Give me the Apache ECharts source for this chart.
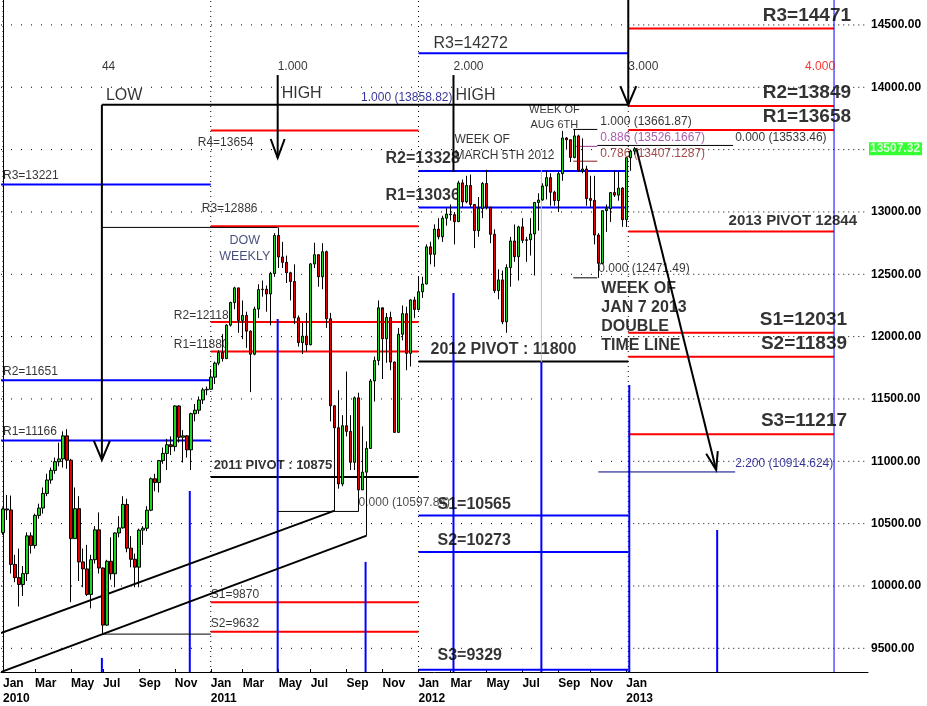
<!DOCTYPE html>
<html><head><meta charset="utf-8">
<script src="https://cdn.jsdelivr.net/npm/echarts@6/dist/echarts.min.js"></script>
<style>html,body{margin:0;padding:0;background:#fff}#c{width:927px;height:706px}</style>
</head><body><div id="c"></div>
<script>
// ---------- DATA ----------
const firstWeek = '2010-01-04';
const totalWeeks = 217;          // weekly slots shown on the axis
const lastLabelIndex = 156;      // last labelled week (Jan 2013)
const monthNames = ['Jan','Feb','Mar','Apr','May','Jun','Jul','Aug','Sep','Oct','Nov','Dec'];
const yMin = 9310, yMax = 14700;
const gridLevels = [9500,10000,10500,11000,11500,12000,12500,13000,13500,14000,14500];
// weekly candles: [open, close, low, high]
const ohlc2010 = [
[10428,10618,10410,10630],[10618,10610,10530,10730],[10610,10173,10100,10725],[10173,10067,10030,10250],
[10067,10012,9835,10300],[10012,10099,9920,10160],[10099,10402,10040,10430],[10402,10325,10260,10430],
[10325,10566,10300,10580],[10566,10625,10540,10660],[10625,10742,10580,10790],[10742,10850,10720,10900],
[10850,10927,10820,10950],[10927,10997,10900,11030],[10997,11019,10960,11150],[11019,11204,10950,11240],
[11204,11009,10940,11258],[11009,10380,9870,11020],[10380,10620,10380,10790],[10620,10193,10040,10720],
[10193,10137,9990,10300],[10137,9932,9920,10330],[9932,10211,9820,10250],[10211,10450,10180,10480],
[10450,10144,10100,10590],[10144,9686,9614,10150],[9686,10198,9680,10210],[10198,10098,10050,10390],
[10098,10425,9990,10430],[10425,10466,10390,10560],[10466,10654,10460,10720],[10654,10303,10270,10700],
[10303,10214,10150,10400],[10214,10151,9990,10260],[10151,10448,9990,10460],[10448,10463,10330,10480],
[10463,10608,10440,10640],[10608,10860,10600,10870],[10860,10830,10760,10900],[10830,11006,10750,11010],
[11006,11063,10980,11110],[11063,11133,10930,11180],[11133,11118,11050,11200],[11118,11444,11080,11450],
[11444,11193,11150,11450],[11193,11204,10990,11250],[11204,11092,11030,11210],[11092,11382,10930,11390],
[11382,11410,11320,11460],[11410,11492,11380,11520],[11492,11573,11460,11590],[11573,11578,11530,11600]];
const ohlc2011 = [
[11578,11675,11580,11740],[11675,11787,11620,11800],[11787,11872,11770,11890],[11872,11824,11800,12020],
[11824,12092,11820,12100],[12092,12273,12080,12280],[12273,12391,12220,12400],[12391,12130,12030,12390],
[12130,12170,11980,12290],[12170,12044,11910,12200],[12044,11859,11555,12050],[11859,12221,11850,12240],
[12221,12377,12150,12420],[12377,12380,12320,12450],[12380,12342,12200,12410],[12342,12506,12090,12520],
[12506,12811,12480,12830],[12811,12639,12550,12876],[12639,12596,12550,12760],[12596,12512,12430,12650],
[12512,12442,12290,12520],[12442,12151,12100,12580],[12151,11952,11920,12170],[11952,12004,11860,12110],
[12004,11935,11880,12190],[11935,12583,11930,12590],[12583,12657,12550,12753],[12657,12480,12400,12660],
[12480,12681,12380,12750],[12681,12143,12070,12690],[12143,11445,11320,12190],[11445,11269,10604,11450],
[11269,10818,10780,11570],[10818,11285,10800,11370],[11285,11240,11200,11720],[11240,10992,10930,11370],
[10992,11509,10930,11520],[11509,10771,10598,11550],[10771,10913,10770,11280],[10913,11103,10404,11160],
[11103,11644,11100,11660],[11644,11809,11480,11840],[11809,12231,11770,12290],[12231,11983,11660,12220],
[11983,12154,11790,12190],[12154,11796,11730,12200],[11796,11232,11230,11800],[11232,12019,11230,12070],
[12019,12184,11970,12250],[12184,11866,11730,12240],[11866,12294,11760,12300],[12294,12218,12150,12320]];
const ohlc2012 = [
[12218,12360,12210,12480],[12360,12422,12310,12480],[12422,12720,12420,12740],[12720,12660,12580,12760],
[12660,12862,12560,12900],[12862,12801,12780,12950],[12801,12950,12760,12970],[12950,12983,12890,13030],
[12983,12978,12930,13060],[12978,12922,12740,13000],[12922,13233,12920,13250],[13233,13081,13040,13260],
[13081,13212,13070,13290],[13212,13060,13040,13300],[13060,12850,12710,13060],[12850,13029,12800,13120],
[13029,13228,12950,13240],[13228,13038,13020,13338],[13038,12821,12750,13040],[12821,12369,12350,12860],
[12369,12455,12300,12540],[12455,12119,12100,12530],[12119,12554,12030,12580],[12554,12767,12400,12800],
[12767,12641,12600,12900],[12641,12880,12450,12890],[12880,12772,12750,12950],[12772,12777,12600,12800],
[12777,12823,12650,12950],[12823,13076,12490,13080],[13076,13096,12850,13150],[13096,13208,13090,13230],
[13208,13275,13100,13330],[13275,13158,13050,13310],[13158,13091,13050,13170],[13091,13307,13000,13320],
[13307,13593,13250,13650],[13593,13579,13500,13600],[13579,13437,13400,13580],[13437,13610,13430,13662],
[13610,13329,13320,13620],[13329,13344,13310,13590],[13344,13107,13050,13370],[13107,13093,13040,13290],
[13093,12815,12740,13290],[12815,12588,12471,12830],[12588,13010,12580,13010],[13010,13026,12840,13060],
[13026,13155,12920,13160],[13155,13135,13120,13330],[13135,13191,13090,13320],[13191,12938,12880,13200],
[12938,13435,12880,13440]];
const ohlc2013 = [[13435,13488,13330,13500],[13488,13507,13460,13520]];
const lastPrice = 13507.32;

// yearly pivot levels
const pivots2010 = [['R3',13221],['R2',11651],['R1',11166]];
const pivots2011 = [['R4',13654],['R3',12886],['R2',12118],['R1',11880],['S1',9870],['S2',9632]];
const pivot2011 = 10875;
const pivots2012 = [['R3',14272],['R2',13328],['R1',13036],['S1',10565],['S2',10273],['S3',9329]];
const pivot2012 = 11800;
const pivots2013 = [['R3',14471],['R2',13849],['R1',13658],['S1',12031],['S2',11839],['S3',11217]];
const pivot2013 = 12844;
// year boundaries (week positions) used by the pivot lines
const yearBounds = [-0.5, 52, 104, 156.5, 208];
const yearMarks = [0, 52, 104, 156.5];

// fibonacci / swing levels
const fibTop = 13858.82;
const high2011 = 12876, low2011 = 10597.84, low2010 = 9614, low2011b = 10404, low2011a = 10604;
const fib2012 = [['1.000', 13661.87], ['0.886', 13526.1667], ['0.786', 13407.1287], ['0.000', 12471.49]];
const ext0 = 13533.46, ext220 = 10914.624;
// time cycle (week positions) and labels
const cycleWeeks = [24.75, 68.75, 112.75, 156.5, 200.75];
const cycleLabels = ['44', '1.000', '2.000', '3.000', '4.000'];
// cycle bars: week position and top price
const barWeeks = [24.75, 46.75, 68.75, 90.75, 112.75, 134.75, 156.75, 178.75];
const barTops = [9423, 10762, 12142, 10193, 12350, 11797, 11612, 10449];

// ---------- BUILD ----------
const F = 'Liberation Sans, Arial, sans-serif';
const DAY = 864e5;
const t0 = Date.parse(firstWeek + 'T00:00:00Z');
const weeks = [], fridays = [];
for (let k = 0; k < totalWeeks; k++) {
  const d = new Date(t0 + k * 7 * DAY);
  weeks.push(d.toISOString().slice(0, 10));
  fridays.push(new Date(t0 + (k * 7 + 4) * DAY));
}
function isLabelWeek(k) {
  if (k > lastLabelIndex) return false;
  const m = fridays[k].getUTCMonth();
  const newMonth = k === 0 || m !== fridays[k - 1].getUTCMonth();
  return newMonth && m % 2 === 0;
}
const candles = [...ohlc2010, ...ohlc2011, ...ohlc2012, ...ohlc2013];

const BLUE = '#0000ff', RED = '#ff0000', BLACK = '#000000', NAVY = '#000080';
const lineItems = [];
const add = (pts, color, width, type) => lineItems.push({coords: pts, lineStyle: {color: color, width: width, type: type || 'solid', opacity: 1}});

gridLevels.forEach(v => {
  add([[-0.5, v], [156.5, v]], BLACK, 1, [1, 9]);
  add([[156.5, v], [216.5, v]], BLACK, 1, [1, 4]);
});
yearMarks.forEach(i => add([[i, yMin], [i, yMax]], BLACK, 1, [1, 4]));

pivots2010.forEach(p => add([[yearBounds[0], p[1]], [yearBounds[1], p[1]]], BLUE, 2));
pivots2011.forEach(p => add([[yearBounds[1], p[1]], [yearBounds[2], p[1]]], RED, 2));
add([[yearBounds[1], pivot2011], [yearBounds[2], pivot2011]], BLACK, 2);
pivots2012.forEach(p => add([[yearBounds[2], p[1]], [yearBounds[3], p[1]]], BLUE, 2));
add([[yearBounds[2], pivot2012], [yearBounds[3], pivot2012]], BLACK, 2);
pivots2013.forEach(p => add([[yearBounds[3], p[1]], [yearBounds[4], p[1]]], RED, 2));
add([[yearBounds[3], pivot2013], [yearBounds[4], pivot2013]], RED, 2);

// cycle bars
barWeeks.forEach((w, k) => add([[w, yMin], [w, barTops[k]]], BLUE, 2));
add([[208, yMin], [208, yMax]], BLUE, 1);
// gray marker
add([[134.75, 11797], [134.75, 13337]], '#c0c0c0', 1);

// time cycle verticals + top line
add([[cycleWeeks[0], fibTop], [cycleWeeks[3], fibTop]], BLACK, 2);
add([[cycleWeeks[0], fibTop], [cycleWeeks[0], 11011]], BLACK, 2);
add([[cycleWeeks[0] - 2, 11163], [cycleWeeks[0], 11011], [cycleWeeks[0] + 2, 11163]], BLACK, 2);
add([[cycleWeeks[1], 14098], [cycleWeeks[1], 13433]], BLACK, 2);
add([[cycleWeeks[1] - 1.75, 13585], [cycleWeeks[1], 13433], [cycleWeeks[1] + 1.75, 13585]], BLACK, 2);
add([[cycleWeeks[2], 14098], [cycleWeeks[2], 13320]], BLACK, 2);
add([[cycleWeeks[3], yMax], [cycleWeeks[3], 13858]], BLACK, 2);
add([[cycleWeeks[3] - 2, 14010], [cycleWeeks[3], 13858], [cycleWeeks[3] + 2, 14010]], BLACK, 2);
// projection arrow
add([[158.5, 13513], [178.5, 10931]], BLACK, 2);
add([[176, 11060], [178.5, 10931], [178.9, 11082]], BLACK, 2);

// channel lines
add([[-0.5, 9623], [83, low2011a]], BLACK, 2);
add([[-0.5, yMin], [91, low2011b]], BLACK, 2);
// swing lines
add([[25, low2010], [52, low2010]], BLACK, 1);
add([[24.75, high2011], [68.75, high2011]], BLACK, 1);
add([[68.75, low2011], [89, low2011]], BLACK, 1);
// fib retracement 2012
const fibColors = ['#000000', '#993399', '#8b1a1a', '#000000'];
fib2012.forEach((f, k) => add([[142.75, f[1]], [148.75, f[1]]], fibColors[k], 1));
add([[148.75, ext0], [182.75, ext0]], BLACK, 1);
add([[149, ext220], [183.25, ext220]], NAVY, 1);

// ---------- TEXTS ----------
const texts = [];
function txt(i, p, text, o) {
  o = o || {};
  texts.push({
    value: [i, p],
    label: {
      show: true, formatter: text, position: 'inside',
      align: o.align || 'left', verticalAlign: o.va || 'middle',
      offset: o.off || [0, 0], color: o.color || '#000',
      fontFamily: F, fontSize: o.size || 12, fontWeight: o.bold ? 'bold' : 'normal',
      lineHeight: o.lh || Math.round((o.size || 12) * 1.25)
    }
  });
}
pivots2010.forEach(p => txt(0, p[1], p[0] + '=' + p[1], {va: 'bottom', off: [0, -1]}));
const l2011 = {R4: [48.75, 'top', 5], R3: [49.75, 'bottom', -10], R2: [42.75, 'bottom', 1], R1: [42.75, 'bottom', 1], S1: [52, 'bottom', 0], S2: [52, 'bottom', -1]};
pivots2011.forEach(p => { const c = l2011[p[0]]; txt(c[0], p[1], p[0] + '=' + p[1], {va: c[1], off: [0, c[2]]}); });
txt(52.75, pivot2011, '2011 PIVOT : ' + pivot2011, {va: 'bottom', off: [0, -3], bold: true, size: 13});
pivots2012.forEach(p => {
  if (p[0] === 'R3') txt(107.75, p[1], 'R3=' + p[1], {va: 'bottom', off: [0, 0], size: 16});
  else if (p[0][0] === 'R') txt(95.75, p[1], p[0] + '=' + p[1], {va: 'bottom', off: [0, -2], bold: true, size: 16});
  else txt(108.75, p[1], p[0] + '=' + p[1], {va: 'bottom', off: [0, p[0] === 'S3' ? -4 : -1], bold: true, size: 16});
});
txt(107, pivot2012, '2012 PIVOT : ' + pivot2012, {va: 'bottom', off: [0, -2], bold: true, size: 16});
pivots2013.forEach(p => txt(p[0][0] === 'R' ? 212.25 : 211.25, p[1], p[0] + '=' + p[1], {align: 'right', va: 'bottom', off: [0, -1], bold: true, size: 19}));
txt(213.75, pivot2013, '2013 PIVOT ' + pivot2013, {align: 'right', va: 'bottom', off: [0, -1], bold: true, size: 15});

cycleWeeks.forEach((w, k) => txt(w, 14163, cycleLabels[k], {color: k === 4 ? '#ff0000' : '#000'}));
txt(25.75, 13930, 'LOW', {size: 16});
txt(69.75, 13946, 'HIGH', {size: 16});
txt(113.25, 13930, 'HIGH', {size: 16});
txt(112.5, 13914, '1.000 (' + fibTop + ')', {align: 'right', color: NAVY});
txt(60.5, 12703, 'DOW\nWEEKLY', {align: 'center', color: '#14205a', size: 12.5, lh: 16});
txt(113, 13513, 'WEEK OF\nMARCH 5TH 2012', {size: 12, lh: 16});
txt(138, 13758, 'WEEK OF\nAUG 6TH', {align: 'center', size: 11, lh: 15});
const fibTextP = [13722, 13593, 13465, 12543];
fib2012.forEach((f, k) => txt(k === 3 ? 149 : 149.5, fibTextP[k], f[0] + ' (' + f[1] + ')', {color: fibColors[k]}));
txt(183.25, 13593, '0.000 (' + ext0 + ')', {});
txt(89, 10666, '0.000 (' + low2011 + ')', {color: '#222'});
txt(183.25, 10979, '2.200 (' + ext220 + ')', {color: NAVY});
txt(149.75, 12154, 'WEEK OF\nJAN 7 2013\nDOUBLE\nTIME LINE', {bold: true, size: 16, lh: 19});

const chart = echarts.init(document.getElementById('c'));
chart.setOption({
  animation: false,
  backgroundColor: '#fff',
  grid: {left: 0, right: 59, top: 0, bottom: 34},
  xAxis: [{
    type: 'category', data: weeks, boundaryGap: true,
    axisLine: {lineStyle: {color: '#000', width: 1}},
    axisTick: {show: true, inside: true, length: 3, alignWithLabel: true, interval: (i) => isLabelWeek(i), lineStyle: {color: '#000'}},
    axisLabel: {
      interval: (i) => isLabelWeek(i),
      formatter: (v, i) => {
        if (!isLabelWeek(i)) return '';
        const f = fridays[i], m = f.getUTCMonth();
        return monthNames[m] + (m === 0 ? '\n' + f.getUTCFullYear() : '');
      },
      align: 'left', margin: 4, fontFamily: F, fontSize: 12, fontWeight: 'bold', color: '#000', lineHeight: 15
    },
    splitLine: {show: false}
  }, {type: 'value', min: -0.5, max: totalWeeks - 0.5, show: false}],
  yAxis: [{
    type: 'value', position: 'right', min: yMin, max: yMax, minInterval: 500, maxInterval: 500,
    axisLine: {show: true, lineStyle: {color: '#000'}},
    axisTick: {show: false},
    axisLabel: {
      formatter: v => (v === 13500 || v === yMin || v === yMax) ? '' : v.toFixed(2),
      margin: 3, fontFamily: F, fontSize: 12, fontWeight: 'bold', color: '#000',
      showMinLabel: false, showMaxLabel: false
    },
    splitLine: {show: false}
  }],
  series: [
    {type: 'lines', coordinateSystem: 'cartesian2d', xAxisIndex: 1, yAxisIndex: 0, polyline: true,
     silent: true, z: 1, data: lineItems, effect: {show: false}},
    {type: 'candlestick', xAxisIndex: 0, yAxisIndex: 0, z: 3, barWidth: 3, data: candles,
     itemStyle: {color: '#1ed41e', color0: '#e00000', borderColor: '#000', borderColor0: '#000', borderWidth: 1}},
    {type: 'scatter', xAxisIndex: 1, yAxisIndex: 0, symbolSize: 1, itemStyle: {color: 'rgba(0,0,0,0)'},
     silent: true, z: 2, clip: false, data: texts},
    {type: 'scatter', xAxisIndex: 1, yAxisIndex: 0, symbolSize: 1, itemStyle: {color: 'rgba(0,0,0,0)'},
     silent: true, z: 6, clip: false,
     data: [{value: [totalWeeks - 0.5, lastPrice], label: {show: true, formatter: lastPrice.toFixed(2), position: 'inside', align: 'left', verticalAlign: 'middle', offset: [1, 0], backgroundColor: '#00ff00', color: '#fff', fontFamily: F, fontSize: 12, fontWeight: 'bold', padding: [1, 2, 0, 1]}}]}
  ]
});
</script></body></html>
